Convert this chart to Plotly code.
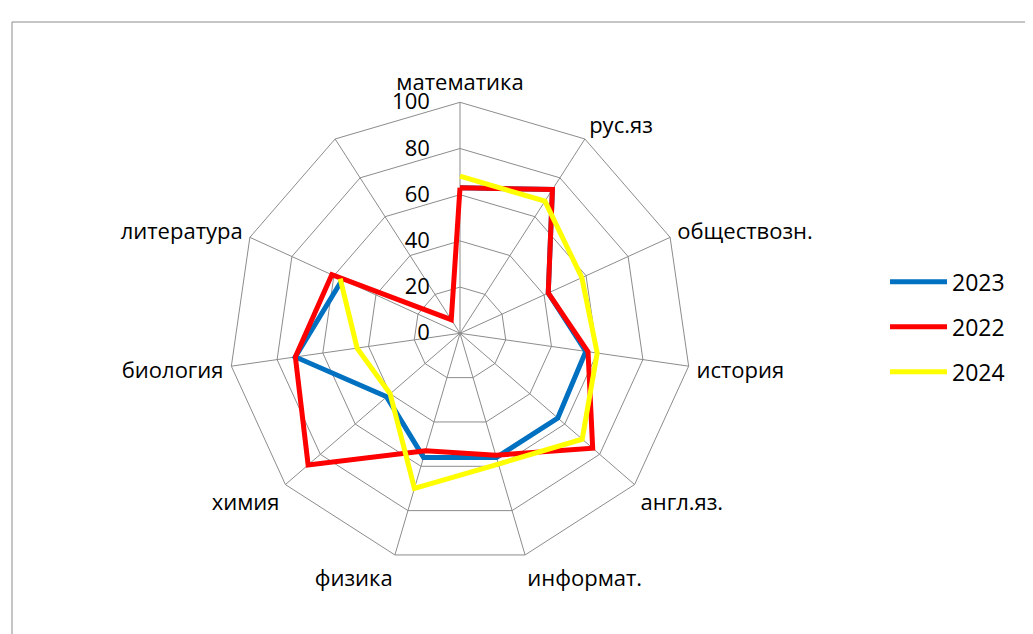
import plotly.graph_objects as go

categories = ["математика", "рус.яз", "обществозн.", "история", "англ.яз.",
              "информат.", "физика", "химия", "биология", "литература", " "]
v2023 = [63, 74, 42, 55, 56, 56, 56, 42, 72, 56, None]
v2022 = [63, 74, 42, 56, 76, 55, 53, 87, 72, 61, 7]
v2024 = [68, 68, 58, 60, 70, 59, 70, 40, 45, 57, None]
series_names = ["2023", "2022", "2024"]
series_colors = ["#0070C0", "#FF0000", "#FFFF00"]

FONT = "Open Sans"

fig = go.Figure()
for name, vals, col in zip(series_names, [v2023, v2022, v2024], series_colors):
    fig.add_trace(go.Scatterpolar(
        r=vals + [vals[0]], theta=categories + [categories[0]],
        mode="lines", name=name, connectgaps=False, legendgroup=name,
        line=dict(color=col, width=5),
    ))

# page body has an 8px offset; positions below are in figure pixels
off = 8
cx, cy, R = 460 - off, 333.3 - off, 231
W, H = 1033, 634
fig.update_layout(
    width=W, height=H,
    margin=dict(l=0, r=0, t=0, b=0),
    paper_bgcolor="white", plot_bgcolor="white",
    font=dict(family=FONT, size=22, color="black"),
    polar=dict(
        domain=dict(x=[(cx - R) / W, (cx + R) / W], y=[(H - cy - R) / H, (H - cy + R) / H]),
        bgcolor="white",
        gridshape="linear",
        radialaxis=dict(range=[0, 100], dtick=20, angle=90, side="counterclockwise",
                        tickangle=90, showline=False, gridcolor="#8C8C8C", gridwidth=1,
                        ticks="outside", ticklen=22, tickcolor="rgba(0,0,0,0)",
                        tickfont=dict(family=FONT, size=22, color="black")),
        angularaxis=dict(direction="clockwise", rotation=90, gridcolor="#8C8C8C",
                         linecolor="#8C8C8C", showline=True, linewidth=1,
                         ticks="outside", ticklen=3, tickcolor="rgba(0,0,0,0)",
                         tickfont=dict(family=FONT, size=22, color="black")),
    ),
    legend=dict(x=0.849, y=0.497, xanchor="left", yanchor="middle",
                font=dict(family=FONT, size=23, color="black"),
                tracegroupgap=12, itemwidth=57),
    shapes=[dict(type="rect", xref="paper", yref="paper",
                 x0=(12 - off) / W, x1=1.05, y0=-0.05, y1=1 - (22 - off) / H,
                 line=dict(color="#8C8C8C", width=1))],
)

fig.write_html("out.html")
